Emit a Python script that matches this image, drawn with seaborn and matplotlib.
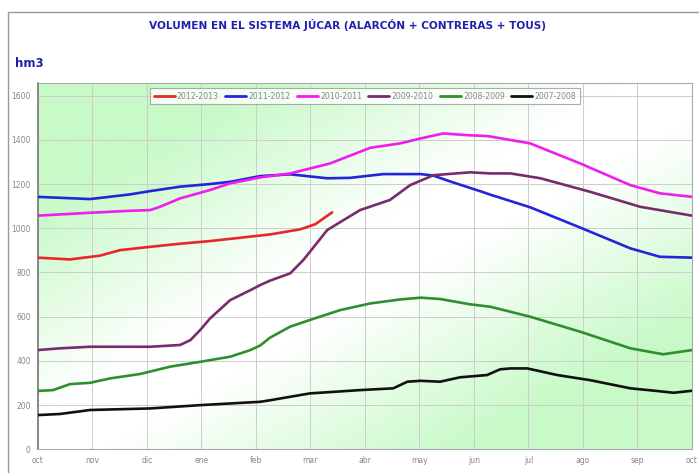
import numpy as np
import pandas as pd
import matplotlib
matplotlib.use("Agg")
import matplotlib.pyplot as plt
from matplotlib.patches import Rectangle
import seaborn as sns

# Month ticks (hydrological year, October to October)
month_labels = ["oct", "nov", "dic", "ene", "feb", "mar", "abr", "may",
                "jun", "jul", "ago", "sep", "oct"]

# Stored volume (hm3) per hydrological year; x = months since 1 October
m_2012 = [0, 0.59, 1.14, 1.51, 2.06, 2.61, 3.16, 3.71, 4.26, 4.81, 5.09, 5.40]
v_2012 = [867, 859, 876, 901, 916, 930, 942, 957, 972, 995, 1018, 1072]

m_2011 = [0, 0.96, 1.69, 2.06, 2.61, 3.16, 3.53, 4.08, 4.63, 5.31, 5.73, 6.34,
          7.02, 7.26, 7.56, 8.11, 8.30, 9.03, 9.95, 10.87, 11.41, 12]
v_2011 = [1142, 1132, 1153, 1168, 1188, 1200, 1210, 1236, 1244, 1226, 1228, 1245,
          1245, 1238, 1212, 1168, 1152, 1095, 1003, 909, 871, 867]

m_2010 = [0, 0.96, 1.69, 2.06, 2.24, 2.61, 3.16, 3.53, 4.08, 4.63, 5.36, 6.10,
          6.65, 7.02, 7.44, 7.88, 8.24, 8.30, 9.03, 9.95, 10.87, 11.41, 12]
v_2010 = [1057, 1070, 1079, 1082, 1097, 1135, 1173, 1203, 1230, 1248, 1293, 1364,
          1384, 1406, 1429, 1421, 1417, 1415, 1384, 1293, 1195, 1158, 1142]

m_2009 = [0, 0.41, 0.96, 2.06, 2.61, 2.80, 2.98, 3.16, 3.53, 3.90, 4.08, 4.26,
          4.63, 4.87, 5.31, 5.91, 6.46, 6.83, 7.26, 7.93, 8.30, 8.67, 9.22,
          10.13, 11.05, 12]
v_2009 = [449, 457, 464, 464, 472, 494, 540, 592, 675, 720, 743, 763,
          796, 856, 992, 1082, 1128, 1195, 1240, 1253, 1248, 1248, 1226,
          1165, 1097, 1057]

m_2008 = [0, 0.28, 0.59, 0.96, 1.33, 1.88, 2.43, 2.98, 3.53, 3.90, 4.08, 4.26,
          4.63, 4.99, 5.55, 6.10, 6.65, 7.02, 7.38, 7.93, 8.30, 9.03, 9.95,
          10.87, 11.47, 12]
v_2008 = [264, 268, 295, 301, 321, 341, 374, 396, 419, 449, 470, 505,
          555, 585, 630, 660, 678, 686, 680, 656, 645, 600, 532,
          457, 430, 449]

m_2007 = [0, 0.41, 0.96, 2.06, 2.98, 4.08, 4.26, 4.99, 5.91, 6.52, 6.78, 7.02,
          7.38, 7.75, 8.24, 8.48, 8.67, 8.98, 9.53, 10.13, 10.87, 11.36, 11.66, 12]
v_2007 = [155, 160, 178, 185, 200, 215, 222, 253, 268, 276, 306, 310,
          306, 326, 336, 362, 366, 366, 336, 313, 276, 264, 256, 265]

series = [
    ("2012-2013", m_2012, v_2012, "#e8262b"),
    ("2011-2012", m_2011, v_2011, "#2424d8"),
    ("2010-2011", m_2010, v_2010, "#f01cf0"),
    ("2009-2010", m_2009, v_2009, "#7a2a6e"),
    ("2008-2009", m_2008, v_2008, "#2f8f2f"),
    ("2007-2008", m_2007, v_2007, "#111111"),
]

df = pd.concat(
    [pd.DataFrame({"mes": m, "hm3": v, "año": name}) for name, m, v, _ in series],
    ignore_index=True,
)
palette = {name: c for name, _, _, c in series}

sns.set_style("white")
fig = plt.figure(figsize=(6.99, 4.73), dpi=100)
ax = fig.add_axes([0.054, 0.050, 0.936, 0.775])

# Diagonal green-white-green background
nx, ny = 300, 200
gx, gy = np.meshgrid(np.linspace(0, 1, nx), np.linspace(1, 0, ny))
w = np.clip((np.abs(gx - gy) - 0.10) / 0.55, 0, 1)
green = np.array([200, 250, 200]) / 255.0
img = (1 - w[..., None]) * np.ones(3) + w[..., None] * green
ax.imshow(img, extent=[0, 1, 0, 1], transform=ax.transAxes, aspect="auto",
          zorder=0, interpolation="bilinear")

sns.lineplot(data=df, x="mes", y="hm3", hue="año", palette=palette,
             hue_order=[s[0] for s in series], estimator=None, sort=False,
             linewidth=1.9, ax=ax, zorder=3)

ax.set_xlim(0, 12)
ax.set_ylim(0, 1658)
ax.set_xticks(range(13))
ax.set_xticklabels(month_labels)
ax.set_yticks(range(0, 1601, 200))
ax.set_yticklabels([str(v) for v in range(0, 1601, 200)])
ax.tick_params(axis="both", labelsize=5.5, colors="#888888", length=2, pad=3)
ax.grid(True, color="#cccccc", linewidth=0.7, zorder=1)
ax.set_axisbelow(True)
ax.set_xlabel("")
ax.set_ylabel("")
for s in ax.spines.values():
    s.set_color("#aaaaaa")
    s.set_linewidth(0.8)
ax.spines["left"].set_color("#777777")
ax.spines["left"].set_linewidth(1.2)

leg = ax.legend(loc="upper center", bbox_to_anchor=(0.5, 0.995), ncol=6,
                fontsize=5.6, frameon=True, handlelength=2.7, handletextpad=0.3,
                columnspacing=0.8, borderpad=0.45, fancybox=False)
leg.get_frame().set_edgecolor("#999999")
leg.get_frame().set_linewidth(0.8)
for t in leg.get_texts():
    t.set_color("#888888")
for line in leg.get_lines():
    line.set_linewidth(2.0)

fig.text(0.497, 0.947, "VOLUMEN EN EL SISTEMA JÚCAR (ALARCÓN + CONTRERAS + TOUS)",
         ha="center", va="center", fontsize=7.6, fontweight="bold", color="#2020b0",
         family=["Liberation Sans Narrow", "DejaVu Sans"])
fig.text(0.021, 0.866, "hm3", ha="left", va="center", fontsize=8.5,
         fontweight="bold", color="#2020b0")

fig.patches.append(Rectangle((0.011, -0.01), 1.0, 0.985, transform=fig.transFigure,
                             fill=False, edgecolor="#999999", linewidth=1.0))

fig.savefig("out.png", dpi=100)
